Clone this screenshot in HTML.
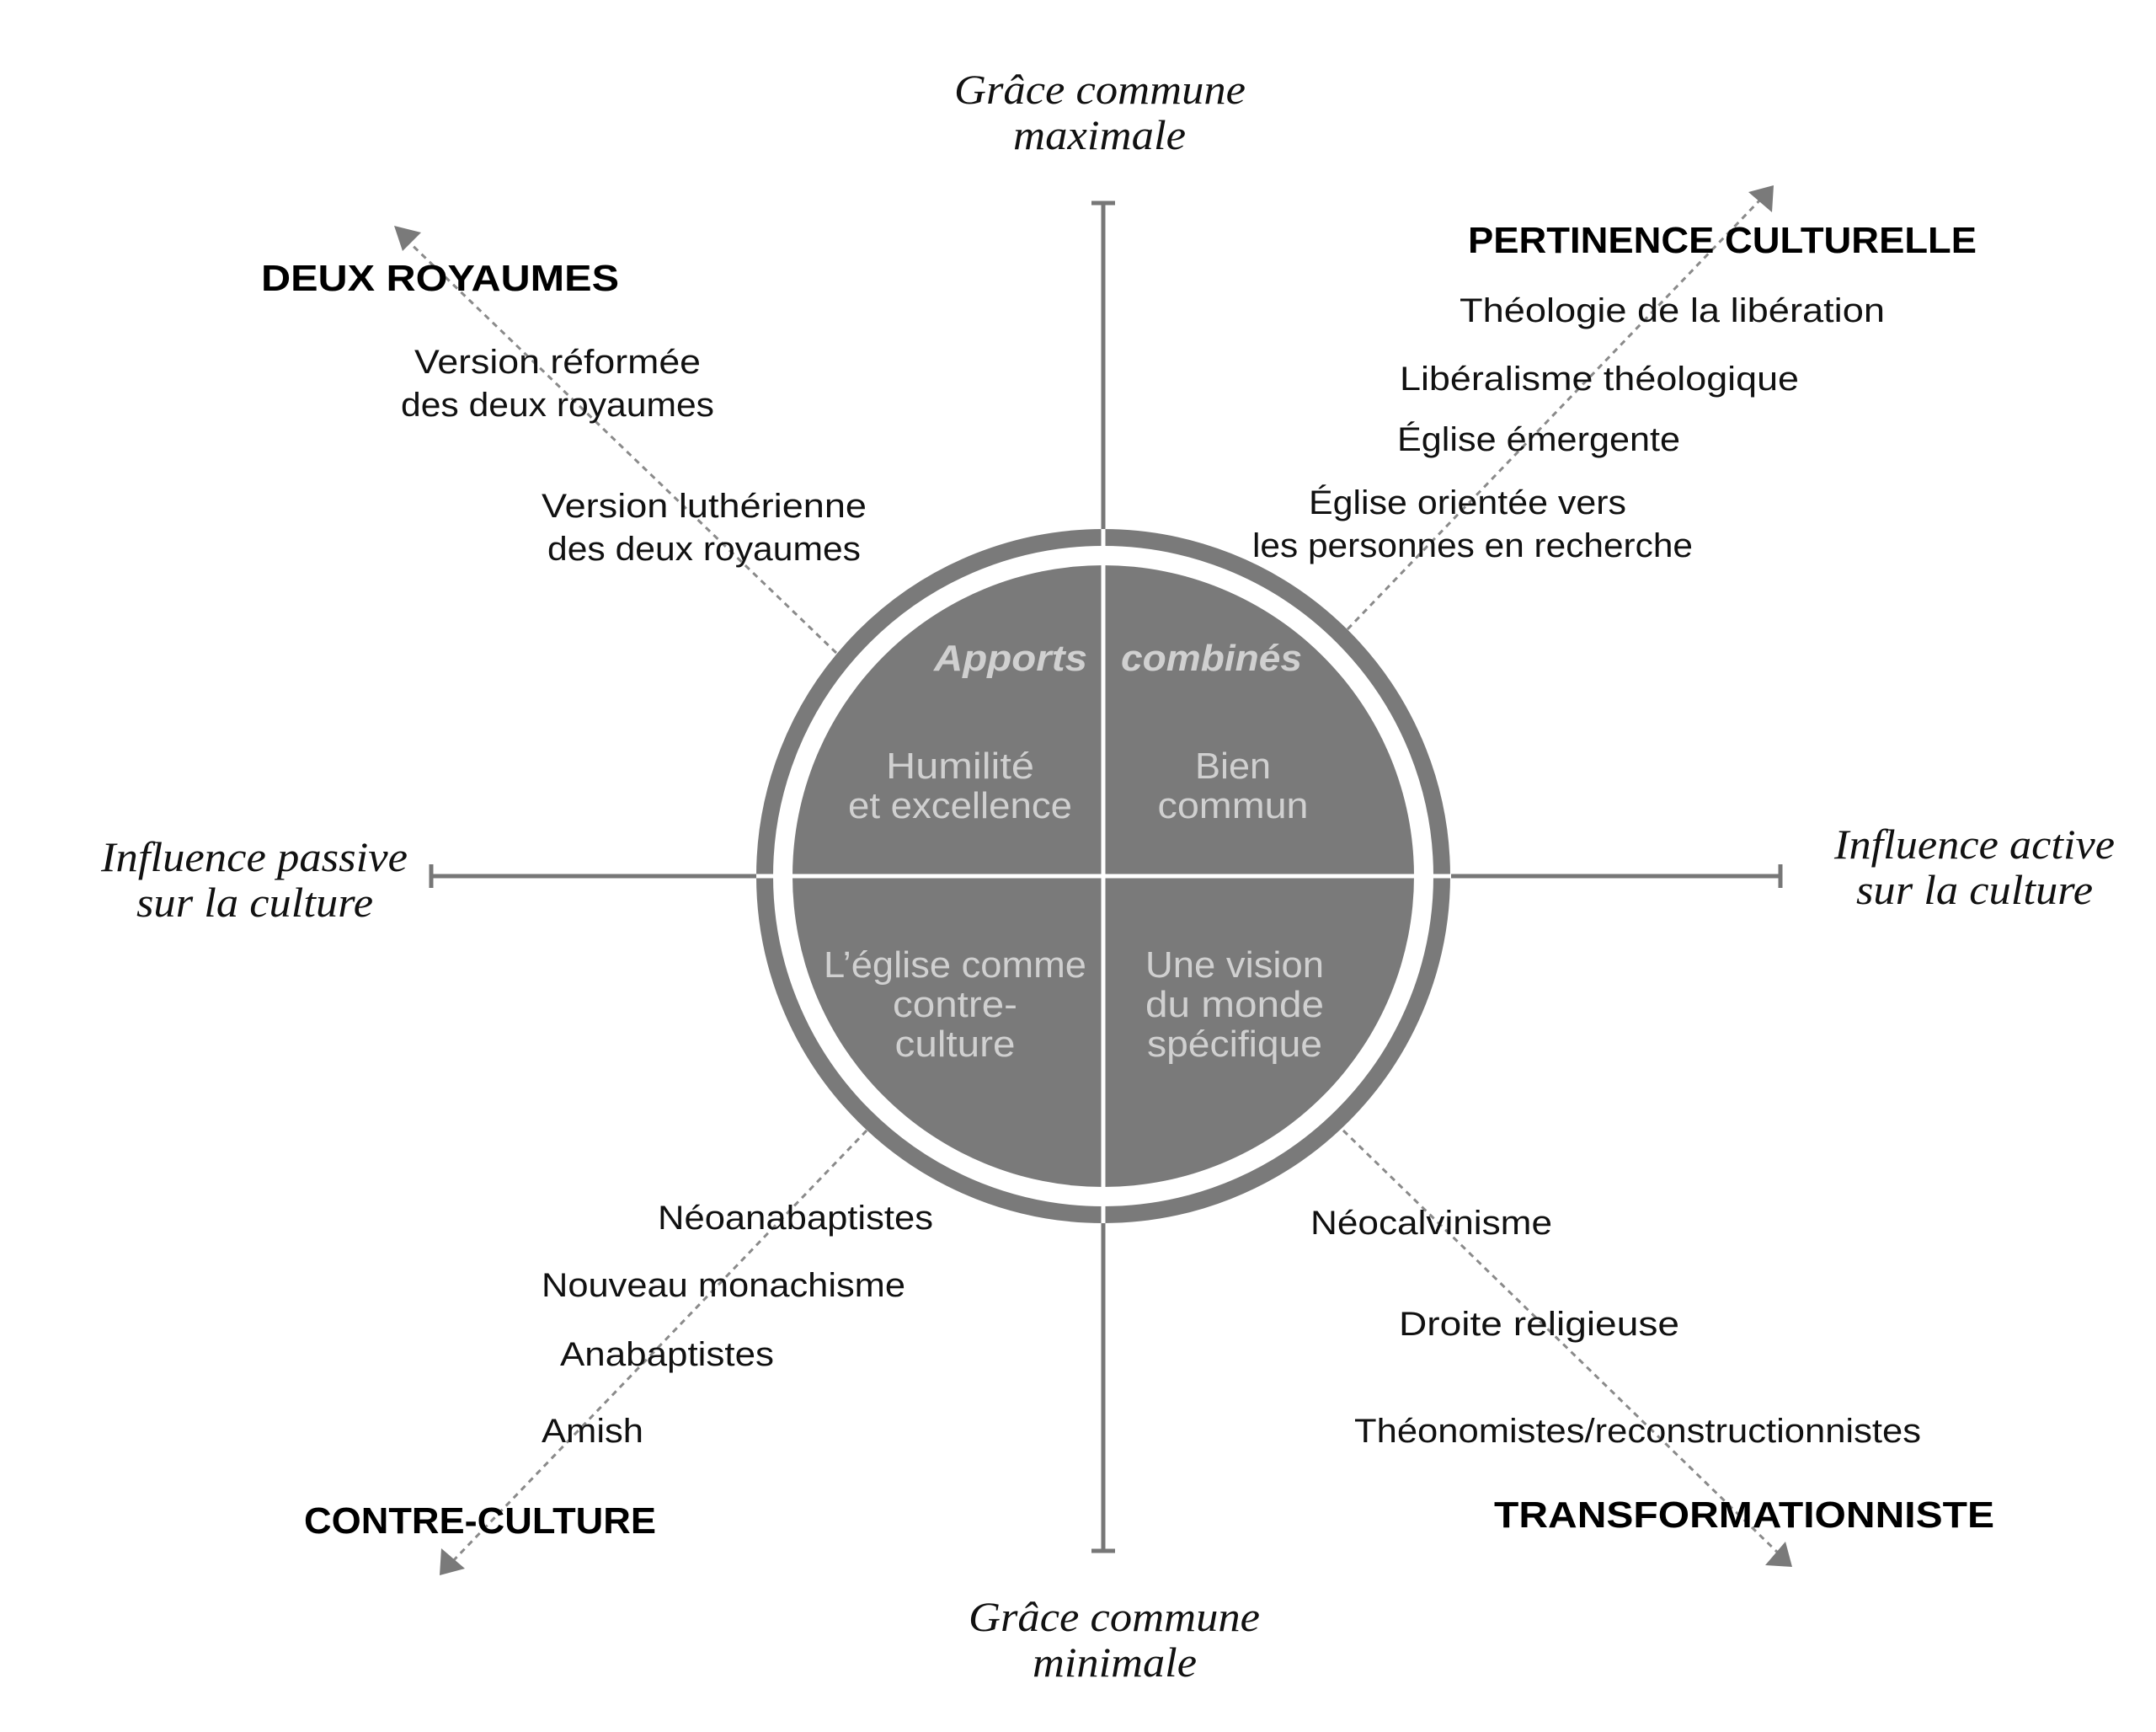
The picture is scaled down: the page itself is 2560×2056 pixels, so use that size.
<!DOCTYPE html>
<html><head><meta charset="utf-8"><style>
html,body{margin:0;padding:0;background:#fff;}
svg{display:block;}
.s{font-family:"Liberation Sans",sans-serif;font-size:40px;fill:#111;}
.h{font-family:"Liberation Sans",sans-serif;font-size:44px;font-weight:bold;fill:#000;}
.i{font-family:"Liberation Serif",serif;font-style:italic;font-size:50px;fill:#111;}
.c{font-family:"Liberation Sans",sans-serif;font-size:44px;fill:#d0d0d0;}
.cb{font-family:"Liberation Sans",sans-serif;font-size:44px;font-weight:bold;font-style:italic;fill:#d0d0d0;}
</style></head><body>
<svg width="2560" height="2056" viewBox="0 0 2560 2056" xmlns="http://www.w3.org/2000/svg">
<rect width="2560" height="2056" fill="#fff"/>
<!-- dashed diagonals -->
<g stroke="#8a8a8a" stroke-width="3" stroke-dasharray="7 6" fill="none">
<line x1="993" y1="775" x2="480" y2="282"/>
<line x1="1600" y1="747" x2="2094" y2="233"/>
<line x1="1029" y1="1342" x2="535" y2="1856"/>
<line x1="1595" y1="1342" x2="2115" y2="1847"/>
</g>
<g fill="#7a7a7a">
<polygon points="468,268 500,276 478,298"/>
<polygon points="2106,220 2104,252 2076,228"/>
<polygon points="522,1870 524,1838 552,1862"/>
<polygon points="2128,1860 2096,1858 2120,1830"/>
</g>
<!-- axes -->
<g stroke="#777" stroke-width="5" fill="none">
<line x1="1310" y1="241" x2="1310" y2="628"/>
<line x1="1296" y1="241" x2="1324" y2="241"/>
<line x1="1310" y1="1452" x2="1310" y2="1841"/>
<line x1="1296" y1="1841" x2="1324" y2="1841"/>
<line x1="512" y1="1040" x2="899" y2="1040"/>
<line x1="512" y1="1026" x2="512" y2="1054"/>
<line x1="1723" y1="1040" x2="2114" y2="1040"/>
<line x1="2114" y1="1026" x2="2114" y2="1054"/>
</g>
<!-- circle -->
<circle cx="1310" cy="1040" r="402" fill="none" stroke="#7a7a7a" stroke-width="20"/>
<circle cx="1310" cy="1040" r="369" fill="#7a7a7a"/>
<line x1="1310" y1="628" x2="1310" y2="1452" stroke="#fff" stroke-width="5"/>
<line x1="898" y1="1040" x2="1722" y2="1040" stroke="#fff" stroke-width="5"/>
<!-- circle text -->
<text class="cb" x="1109" y="796" textLength="182" lengthAdjust="spacingAndGlyphs">Apports</text>
<text class="cb" x="1331" y="796" textLength="215" lengthAdjust="spacingAndGlyphs">combinés</text>
<g class="c" text-anchor="middle">
<text x="1140" y="924" textLength="176" lengthAdjust="spacingAndGlyphs">Humilité</text>
<text x="1140" y="971" textLength="266" lengthAdjust="spacingAndGlyphs">et excellence</text>
<text x="1464" y="924" textLength="90" lengthAdjust="spacingAndGlyphs">Bien</text>
<text x="1464" y="971" textLength="179" lengthAdjust="spacingAndGlyphs">commun</text>
<text x="1134" y="1160" textLength="312" lengthAdjust="spacingAndGlyphs">L’église comme</text>
<text x="1134" y="1207" textLength="148" lengthAdjust="spacingAndGlyphs">contre-</text>
<text x="1134" y="1254" textLength="143" lengthAdjust="spacingAndGlyphs">culture</text>
<text x="1466" y="1160" textLength="212" lengthAdjust="spacingAndGlyphs">Une vision</text>
<text x="1466" y="1207" textLength="212" lengthAdjust="spacingAndGlyphs">du monde</text>
<text x="1466" y="1254" textLength="208" lengthAdjust="spacingAndGlyphs">spécifique</text>
</g>
<!-- italic axis labels -->
<g class="i">
<text x="1133" y="123" textLength="346" lengthAdjust="spacingAndGlyphs">Grâce commune</text>
<text x="1203" y="177" textLength="205" lengthAdjust="spacingAndGlyphs">maximale</text>
<text x="120" y="1034" textLength="364" lengthAdjust="spacingAndGlyphs">Influence passive</text>
<text x="162" y="1088" textLength="281" lengthAdjust="spacingAndGlyphs">sur la culture</text>
<text x="2178" y="1019" textLength="333" lengthAdjust="spacingAndGlyphs">Influence active</text>
<text x="2204" y="1073" textLength="281" lengthAdjust="spacingAndGlyphs">sur la culture</text>
<text x="1150" y="1936" textLength="346" lengthAdjust="spacingAndGlyphs">Grâce commune</text>
<text x="1226" y="1990" textLength="195" lengthAdjust="spacingAndGlyphs">minimale</text>
</g>
<!-- headings -->
<g class="h">
<text x="310" y="345" textLength="425" lengthAdjust="spacingAndGlyphs">DEUX ROYAUMES</text>
<text x="1743" y="300" textLength="604" lengthAdjust="spacingAndGlyphs">PERTINENCE CULTURELLE</text>
<text x="361" y="1820" textLength="418" lengthAdjust="spacingAndGlyphs">CONTRE-CULTURE</text>
<text x="1774" y="1813" textLength="594" lengthAdjust="spacingAndGlyphs">TRANSFORMATIONNISTE</text>
</g>
<!-- labels -->
<g class="s">
<text x="492" y="443" textLength="340" lengthAdjust="spacingAndGlyphs">Version réformée</text>
<text x="476" y="494" textLength="372" lengthAdjust="spacingAndGlyphs">des deux royaumes</text>
<text x="643" y="614" textLength="386" lengthAdjust="spacingAndGlyphs">Version luthérienne</text>
<text x="650" y="665" textLength="372" lengthAdjust="spacingAndGlyphs">des deux royaumes</text>
<text x="1733" y="382" textLength="505" lengthAdjust="spacingAndGlyphs">Théologie de la libération</text>
<text x="1662" y="463" textLength="474" lengthAdjust="spacingAndGlyphs">Libéralisme théologique</text>
<text x="1659" y="535" textLength="336" lengthAdjust="spacingAndGlyphs">Église émergente</text>
<text x="1554" y="610" textLength="377" lengthAdjust="spacingAndGlyphs">Église orientée vers</text>
<text x="1487" y="661" textLength="523" lengthAdjust="spacingAndGlyphs">les personnes en recherche</text>
<text x="781" y="1459" textLength="327" lengthAdjust="spacingAndGlyphs">Néoanabaptistes</text>
<text x="643" y="1539" textLength="432" lengthAdjust="spacingAndGlyphs">Nouveau monachisme</text>
<text x="665" y="1621" textLength="254" lengthAdjust="spacingAndGlyphs">Anabaptistes</text>
<text x="643" y="1712" textLength="121" lengthAdjust="spacingAndGlyphs">Amish</text>
<text x="1556" y="1465" textLength="287" lengthAdjust="spacingAndGlyphs">Néocalvinisme</text>
<text x="1661" y="1585" textLength="333" lengthAdjust="spacingAndGlyphs">Droite religieuse</text>
<text x="1608" y="1712" textLength="673" lengthAdjust="spacingAndGlyphs">Théonomistes/reconstructionnistes</text>
</g>
</svg>
</body></html>
